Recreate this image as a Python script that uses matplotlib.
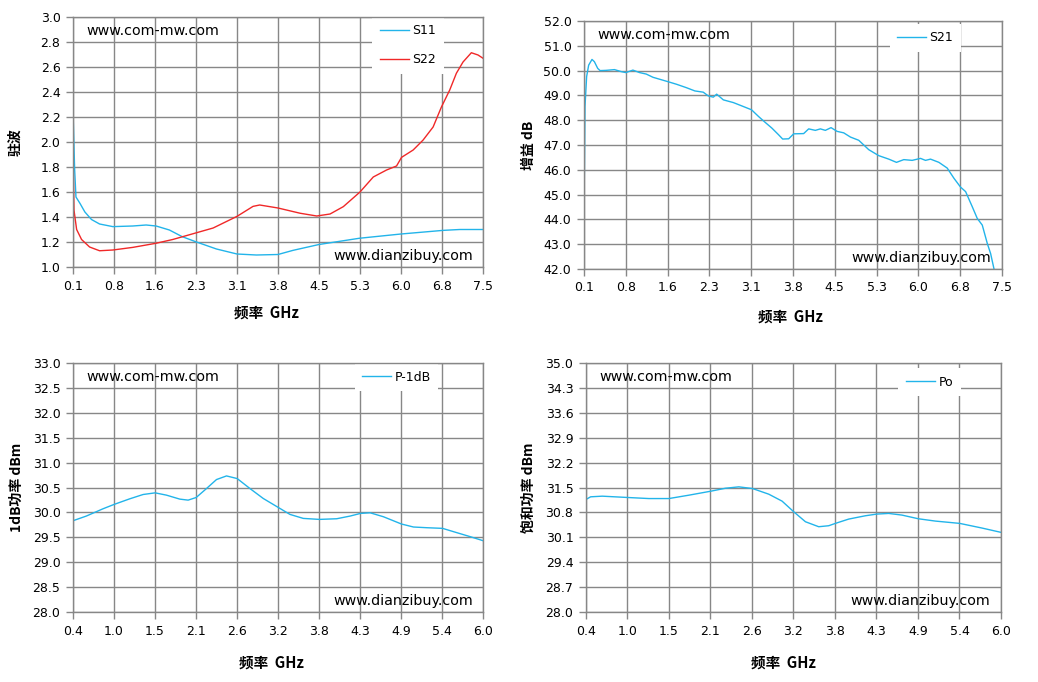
import numpy as np
import matplotlib.pyplot as plt

plt.rcParams['font.family'] = ['DejaVu Sans', 'Noto Sans CJK SC']

# ===== 数据 =====
# 驻波 S11
s11_f = [0.1, 0.13, 0.154, 0.225, 0.315, 0.434, 0.58, 0.82, 1.18, 1.42, 1.60, 1.84, 2.07, 2.31,
         2.69, 3.06, 3.41, 3.80, 4.07, 4.54, 5.27, 6.02, 6.78, 7.08, 7.50]
s11 = [2.26, 1.78, 1.56, 1.51, 1.44, 1.38, 1.344, 1.323, 1.328, 1.336, 1.328, 1.296, 1.243, 1.203,
       1.144, 1.104, 1.096, 1.10, 1.133, 1.18, 1.23, 1.264, 1.293, 1.30, 1.30]
# 驻波 S22
s22_f = [0.1, 0.105, 0.118, 0.166, 0.255, 0.40, 0.58, 0.82, 1.18, 1.60, 1.90, 2.25, 2.63, 3.06,
         3.35, 3.47, 3.80, 4.20, 4.50, 4.74, 4.98, 5.28, 5.52, 5.76, 5.94, 6.03, 6.24, 6.42,
         6.60, 6.75, 6.90, 7.02, 7.14, 7.29, 7.41, 7.50]
s22 = [3.0, 1.80, 1.456, 1.30, 1.22, 1.16, 1.13, 1.136, 1.157, 1.19, 1.22, 1.264, 1.312, 1.405,
       1.485, 1.496, 1.472, 1.43, 1.408, 1.424, 1.483, 1.60, 1.72, 1.776, 1.808, 1.877, 1.936, 2.016,
       2.12, 2.28, 2.416, 2.55, 2.64, 2.714, 2.696, 2.67]

# 增益 S21
gain_f = [0.1, 0.118, 0.147, 0.183, 0.242, 0.284, 0.343, 0.385, 0.491, 0.64, 0.758, 0.841, 0.966,
          1.085, 1.203, 1.322, 1.577, 1.737, 1.915, 2.063, 2.211, 2.30, 2.39, 2.449, 2.567, 2.745,
          2.923, 3.066, 3.19, 3.309, 3.427, 3.546, 3.617, 3.724, 3.812, 3.989, 4.078, 4.196, 4.285,
          4.373, 4.474, 4.58, 4.698, 4.817, 4.964, 5.142, 5.319, 5.496, 5.632, 5.762, 5.91, 6.058,
          6.146, 6.235, 6.383, 6.53, 6.649, 6.767, 6.856, 6.974, 7.062, 7.151, 7.24, 7.299, 7.358]
s21 = [44.2, 48.55, 49.76, 50.22, 50.45, 50.36, 50.09, 50.0, 50.01, 50.04, 49.96, 49.92, 50.02,
       49.92, 49.86, 49.73, 49.56, 49.45, 49.31, 49.18, 49.13, 48.98, 48.93, 49.05, 48.82, 48.71,
       48.55, 48.42, 48.15, 47.91, 47.68, 47.41, 47.24, 47.25, 47.45, 47.46, 47.65, 47.59, 47.65,
       47.59, 47.70, 47.55, 47.49, 47.32, 47.19, 46.81, 46.57, 46.43, 46.30, 46.41, 46.38, 46.46,
       46.38, 46.43, 46.30, 46.07, 45.66, 45.30, 45.12, 44.51, 44.04, 43.77, 43.03, 42.62, 42.01]

# P-1dB
p1_f = [0.4, 0.582, 0.81, 0.96, 1.175, 1.358, 1.522, 1.677, 1.86, 1.973, 2.083, 2.224, 2.36,
        2.497, 2.643, 2.817, 2.999, 3.204, 3.364, 3.546, 3.765, 4.002, 4.185, 4.326, 4.458,
        4.641, 4.887, 5.051, 5.234, 5.448, 5.644, 5.826, 6.0]
p1db = [29.833, 29.927, 30.073, 30.16, 30.273, 30.36, 30.393, 30.347, 30.267, 30.247, 30.30, 30.48,
        30.66, 30.733, 30.68, 30.48, 30.28, 30.10, 29.96, 29.88, 29.86, 29.873, 29.927, 29.98,
        29.993, 29.913, 29.767, 29.707, 29.693, 29.68, 29.593, 29.513, 29.433]

# 饱和功率 Po
po_f = [0.4, 0.463, 0.62, 0.962, 1.249, 1.519, 1.789, 2.085, 2.283, 2.463, 2.647, 2.867, 3.047,
        3.204, 3.362, 3.541, 3.676, 3.766, 3.946, 4.17, 4.323, 4.485, 4.665, 4.885, 5.114, 5.443,
        5.744, 6.0]
po = [31.164, 31.239, 31.257, 31.22, 31.19, 31.19, 31.285, 31.397, 31.48, 31.519, 31.472, 31.313,
      31.117, 30.818, 30.538, 30.398, 30.426, 30.492, 30.613, 30.706, 30.753, 30.772, 30.725,
      30.622, 30.557, 30.492, 30.361, 30.24]

BLUE = '#22B4EA'
RED = '#F02828'
GRID = '#878787'
CJK = ['Noto Sans CJK SC', 'DejaVu Sans']


def setup(ax, xlim, ylim, ylabel, ylab_x, xlab_xy):
    xt = np.linspace(xlim[0], xlim[1], 11)
    yt = np.linspace(ylim[0], ylim[1], 11)
    ax.set_xlim(*xlim)
    ax.set_ylim(*ylim)
    ax.set_xticks(xt)
    ax.set_xticklabels([f'{v:.1f}' for v in xt])
    ax.set_yticks(yt)
    ax.set_yticklabels([f'{v:.1f}' for v in yt])
    ax.grid(True, color=GRID, linewidth=1.0)
    ax.set_axisbelow(True)
    for sp in ax.spines.values():
        sp.set_color(GRID)
        sp.set_linewidth(1.0)
    ax.tick_params(colors=GRID, labelcolor='black', length=5, width=1.0, labelsize=9, pad=4)
    ax.set_xlabel('频率  GHz', family=CJK, fontweight='bold', fontsize=10.5, va='center')
    ax.xaxis.set_label_coords(*xlab_xy)
    ax.set_ylabel(ylabel, family=CJK, fontweight='bold', fontsize=10, va='center')
    ax.yaxis.set_label_coords(ylab_x, 0.5)
    ax.text(0.032, 0.945, 'www.com-mw.com', transform=ax.transAxes, fontsize=10.3,
            ha='left', va='center')
    ax.text(0.975, 0.045, 'www.dianzibuy.com', transform=ax.transAxes, fontsize=10.3,
            ha='right', va='center')


def legend(ax, anchor):
    leg = ax.legend(loc='upper left', bbox_to_anchor=anchor, frameon=True, fancybox=False,
                    edgecolor='none', framealpha=1.0, fontsize=9, handlelength=2.3,
                    handletextpad=0.3, labelspacing=1.25, borderpad=0.6, borderaxespad=0)
    leg.set_zorder(2.2)


fig = plt.figure(figsize=(10.38, 6.82), dpi=100)

ax1 = fig.add_axes([0.0703, 0.6085, 0.395, 0.3666])
ax1.plot(s11_f, s11, color=BLUE, lw=1.0, label='S11')
ax1.plot(s22_f, s22, color=RED, lw=1.0, label='S22')
setup(ax1, (0.1, 7.5), (1.0, 3.0), '驻波', -0.141, (0.473, -0.184))
legend(ax1, (0.73, 1.0))

ax2 = fig.add_axes([0.5626, 0.6056, 0.4027, 0.3636])
ax2.plot(gain_f, s21, color=BLUE, lw=1.0, label='S21')
setup(ax2, (0.1, 7.5), (42.0, 52.0), '增益 dB', -0.132, (0.493, -0.194))
legend(ax2, (0.731, 0.988))

ax3 = fig.add_axes([0.0703, 0.1026, 0.395, 0.3651])
ax3.plot(p1_f, p1db, color=BLUE, lw=1.0, label='P-1dB')
setup(ax3, (0.4, 6.0), (28.0, 33.0), '1dB功率 dBm', -0.137, (0.485, -0.205))
legend(ax3, (0.687, 1.0))

ax4 = fig.add_axes([0.5645, 0.1026, 0.3998, 0.3651])
ax4.plot(po_f, po, color=BLUE, lw=1.0, label='Po')
setup(ax4, (0.4, 6.0), (28.0, 35.0), '饱和功率 dBm', -0.137, (0.475, -0.205))
legend(ax4, (0.753, 0.98))

fig.savefig('out.png', dpi=100)
